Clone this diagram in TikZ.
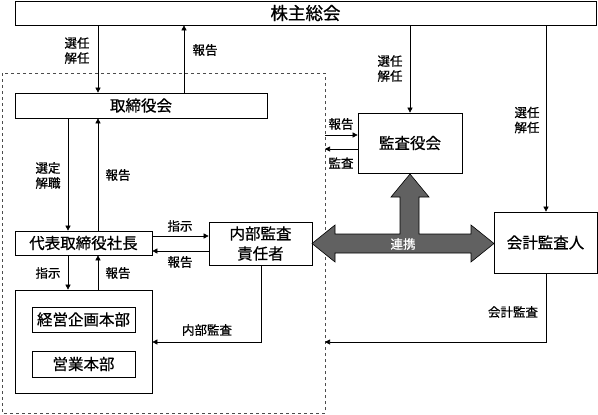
\documentclass[tikz,border=0pt]{standalone}
\usepackage{fontspec}
\setmainfont{Noto Sans CJK JP}[FakeBold=0.7]
\usetikzlibrary{arrows.meta}

\tikzset{
  box/.style={draw, line width=0.7pt, inner sep=0pt, align=center,
    font=\fontsize{15.5}{20}\selectfont},
  lbl/.style={font=\fontsize{12.5}{15}\selectfont, align=center, inner sep=0pt},
  arr/.style={line width=0.6pt, -{Triangle[length=5pt,width=5pt]}},
}

\begin{document}
\begin{tikzpicture}[x=1pt, y=-1pt]
  \useasboundingbox (0,0) rectangle (598,415);

  % area of the company
  \draw[dashed, line width=0.6pt, black!70] (2,73) rectangle (325,413);

  % boxes
  \node[box, minimum width=581pt, minimum height=24pt,
    font=\fontsize{17.5}{20}\selectfont] (kabu) at (305.5,13) {株主総会};
  \node[box, minimum width=252pt, minimum height=25pt] (tori) at (141,105.5) {取締役会};
  \node[box, minimum width=137pt, minimum height=24pt] (daihyo) at (83.5,243) {代表取締役社長};
  \node[box, minimum width=137pt, minimum height=103pt] (jigyo) at (83.5,341.5) {};
  \node[box, minimum width=103pt, minimum height=25pt] (keiei) at (83.5,319.5) {経営企画本部};
  \node[box, minimum width=103pt, minimum height=26pt] (eigyo) at (83.5,364) {営業本部};
  \node[box, minimum width=103pt, minimum height=43pt] (naibu) at (260.5,243.5) {内部監査\\責任者};
  \node[box, minimum width=104pt, minimum height=60pt] (kansa) at (410,143) {監査役会};
  \node[box, minimum width=103pt, minimum height=61pt] (kaikei) at (545.5,242.5) {会計監査人};

  % columns and rows of the lines
  \coordinate (cA) at (68,0);
  \coordinate (cB) at (98,0);
  \coordinate (cC) at (184,0);
  \coordinate (cD) at (261,0);
  \coordinate (cF) at (546,0);
  \coordinate (rR) at (0,236);
  \coordinate (rS) at (0,251);
  \coordinate (rT) at (0,342);
  \coordinate (gP) at (325,135);
  \coordinate (gQ) at (325,149);
  \coordinate (gR) at (325,342);

  % lines
  \draw[arr] (kabu.south -| cB) -- (tori.north -| cB);
  \draw[arr] (tori.north -| cC) -- (kabu.south -| cC);
  \draw[arr] (tori.south -| cA) -- (daihyo.north -| cA);
  \draw[arr] (daihyo.north -| cB) -- (tori.south -| cB);
  \draw[arr] (daihyo.south -| cA) -- (jigyo.north -| cA);
  \draw[arr] (jigyo.north -| cB) -- (daihyo.south -| cB);
  \draw[arr] (daihyo.east |- rR) -- (naibu.west |- rR);
  \draw[arr] (naibu.west |- rS) -- (daihyo.east |- rS);
  \draw[arr] (naibu.south -| cD) |- (jigyo.east |- rT);
  \draw[arr] (kabu.south -| kansa.north) -- (kansa.north);
  \draw[arr] (kabu.south -| cF) -- (kaikei.north -| cF);
  \draw[arr] (kaikei.south -| cF) |- (gR);
  \draw[arr] (gP) -- (kansa.west |- gP);
  \draw[arr] (kansa.west |- gQ) -- (gQ);

  % big arrow
  \draw[line width=0.6pt, fill=black!62]
    (312,243.5) -- (335,225) -- (335,234) -- (400,234) -- (400,197)
    -- (391,197) -- (410,174) -- (429,197) -- (419,197) -- (419,234)
    -- (471,234) -- (471,225) -- (494,243.5) -- (471,262) -- (471,253)
    -- (335,253) -- (335,262) -- cycle;
  \node[lbl, text=white] (renkei) at (403,244) {連携};

  % labels
  \node[lbl] (l1) at (77,50.5) {選任\\解任};
  \node[lbl] (l2) at (205,50) {報告};
  \node[lbl] (l3) at (48,175.5) {選定\\解職};
  \node[lbl] (l4) at (118,175) {報告};
  \node[lbl] (l5) at (180,226) {指示};
  \node[lbl] (l6) at (180,262) {報告};
  \node[lbl] (l7) at (48,273) {指示};
  \node[lbl] (l8) at (118,273) {報告};
  \node[lbl] (l9) at (207,330) {内部監査};
  \node[lbl] (l10) at (390,68.5) {選任\\解任};
  \node[lbl] (l11) at (341,124) {報告};
  \node[lbl] (l12) at (341,163) {監査};
  \node[lbl] (l13) at (527,120) {選任\\解任};
  \node[lbl] (l14) at (513,312) {会計監査};
\end{tikzpicture}
\end{document}
